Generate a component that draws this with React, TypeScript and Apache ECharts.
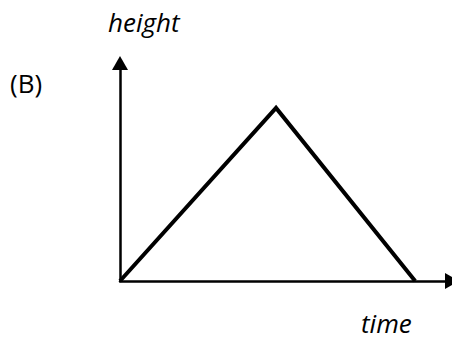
import React, { useEffect, useRef } from "react";
import * as echarts from "echarts";

const timeValues = [0, 4.7, 8.89];
const heightValues = [0, 7.94, 0];
const xLabel = "time";
const yLabel = "height";
const panelLabel = "(B)";

export default function App() {
  const ref = useRef<HTMLDivElement>(null);
  useEffect(() => {
    if (!ref.current) return;
    const chart = echarts.init(ref.current, null, { renderer: "svg" });
    const font = "'Open Sans', 'Noto Sans', sans-serif";
    const axisCommon = {
      type: "value",
      min: 0,
      max: 10,
      axisLine: {
        show: true,
        symbol: ["none", "triangle"],
        symbolSize: [16, 14],
        lineStyle: { color: "#000", width: 2.5 },
      },
      axisTick: { show: false },
      axisLabel: { show: false },
      splitLine: { show: false },
    };
    chart.setOption({
      animation: false,
      backgroundColor: "#ffffff",
      grid: { left: 120, top: 63, right: 0, bottom: 60, containLabel: false },
      xAxis: axisCommon,
      yAxis: axisCommon,
      series: [
        {
          type: "line",
          data: timeValues.map((t, i) => [t, heightValues[i]]),
          showSymbol: false,
          symbol: "none",
          lineStyle: { color: "#000", width: 4, join: "miter" },
        },
      ],
      graphic: [
        {
          type: "text",
          left: 108,
          top: 9,
          style: { text: yLabel, font: `italic 26px ${font}`, fill: "#000" },
        },
        {
          type: "text",
          left: 10,
          top: 70,
          style: { text: panelLabel, font: `26px ${font}`, fill: "#000" },
        },
        {
          type: "text",
          left: 361,
          top: 309,
          style: { text: xLabel, font: `italic 26px ${font}`, fill: "#000", lineHeight: 28 },
        },
      ],
    });
    return () => chart.dispose();
  }, []);
  return <div ref={ref} style={{ width: 452, height: 341, position: "absolute", left: 0, top: 0 }} />;
}
